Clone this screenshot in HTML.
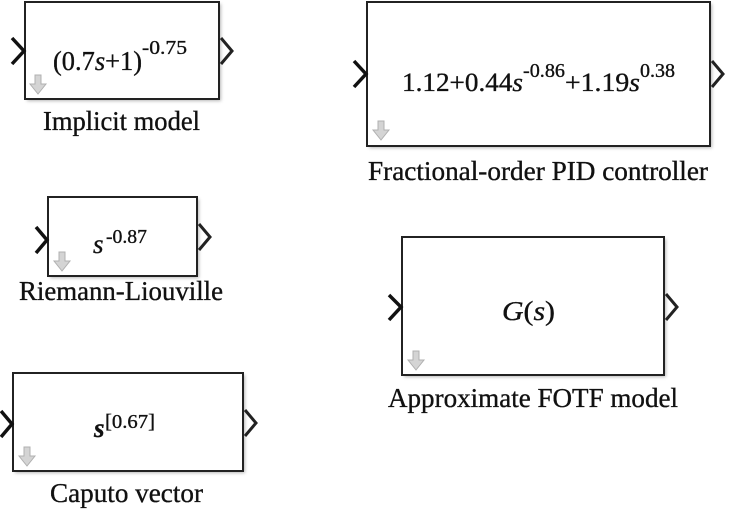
<!DOCTYPE html>
<html>
<head>
<meta charset="utf-8">
<style>
html,body{margin:0;padding:0;background:#fff;}
svg{display:block;}
text{font-family:"Liberation Serif","Times New Roman",serif;fill:#111;stroke:#111;stroke-width:0.35;}
</style>
</head>
<body>
<svg width="732" height="519" viewBox="0 0 732 519" xmlns="http://www.w3.org/2000/svg">
<defs>
  <filter id="sh" x="-10%" y="-10%" width="130%" height="130%">
    <feGaussianBlur stdDeviation="1.5"/>
  </filter>
  <g id="dn">
    <path d="M-3,0 H3 V9 H8 L0,19 L-8,9 H-3 Z" fill="#d4d4d4" stroke="#b0b0b0" stroke-width="1"/>
  </g>
</defs>

<!-- Box 1: Implicit model -->
<rect x="27" y="4" width="194" height="97" fill="#9a9a9a" filter="url(#sh)" opacity="0.7"/>
<rect x="25" y="2" width="194" height="97" fill="#fff" stroke="#222" stroke-width="2"/>
<use href="#dn" x="38" y="75"/>
<polyline points="12,38 24,51 12,64" fill="none" stroke="#111" stroke-width="3.5"/>
<polyline points="221,38 232,51 221,64" fill="none" stroke="#222" stroke-width="3"/>
<text x="53" y="70" font-size="27" textLength="89" lengthAdjust="spacingAndGlyphs">(0.7<tspan font-style="italic">s</tspan>+1)</text>
<text x="142" y="54" font-size="20" textLength="45" lengthAdjust="spacingAndGlyphs">-0.75</text>
<text x="43" y="130" font-size="27" textLength="157" lengthAdjust="spacingAndGlyphs">Implicit model</text>

<!-- Box 2: Fractional-order PID controller -->
<rect x="369" y="4" width="343" height="144" fill="#9a9a9a" filter="url(#sh)" opacity="0.7"/>
<rect x="367" y="2" width="343" height="144" fill="#fff" stroke="#222" stroke-width="2"/>
<use href="#dn" x="381" y="121"/>
<polyline points="354,61 366,74 354,87" fill="none" stroke="#111" stroke-width="3.5"/>
<polyline points="712,61 723,74 712,87" fill="none" stroke="#222" stroke-width="3"/>
<text x="402" y="91" font-size="26" textLength="121" lengthAdjust="spacingAndGlyphs">1.12+0.44<tspan font-style="italic">s</tspan></text>
<text x="523" y="77" font-size="20" textLength="42" lengthAdjust="spacingAndGlyphs">-0.86</text>
<text x="565" y="91" font-size="26" textLength="75" lengthAdjust="spacingAndGlyphs">+1.19<tspan font-style="italic">s</tspan></text>
<text x="640" y="77" font-size="20" textLength="35" lengthAdjust="spacingAndGlyphs">0.38</text>
<text x="368" y="180" font-size="27" textLength="340" lengthAdjust="spacingAndGlyphs">Fractional-order PID controller</text>

<!-- Box 3: Riemann-Liouville -->
<rect x="50" y="199" width="149" height="79" fill="#9a9a9a" filter="url(#sh)" opacity="0.7"/>
<rect x="48" y="197" width="149" height="79" fill="#fff" stroke="#222" stroke-width="2"/>
<use href="#dn" x="62" y="252"/>
<polyline points="36,227 47,240 36,253" fill="none" stroke="#111" stroke-width="3.5"/>
<polyline points="199,224 210,237 199,250" fill="none" stroke="#222" stroke-width="3"/>
<text x="93" y="253" font-size="27" font-style="italic">s</text>
<text x="106" y="243" font-size="20" textLength="41" lengthAdjust="spacingAndGlyphs">-0.87</text>
<text x="19" y="300" font-size="27" textLength="204" lengthAdjust="spacingAndGlyphs">Riemann-Liouville</text>

<!-- Box 4: Caputo vector -->
<rect x="15" y="375" width="230" height="98" fill="#9a9a9a" filter="url(#sh)" opacity="0.7"/>
<rect x="13" y="373" width="230" height="98" fill="#fff" stroke="#222" stroke-width="2"/>
<use href="#dn" x="27" y="447"/>
<polyline points="1,411 12,424 1,437" fill="none" stroke="#111" stroke-width="3.5"/>
<polyline points="245,410 256,423 245,436" fill="none" stroke="#222" stroke-width="3"/>
<text x="94" y="437" font-size="27" font-style="italic" font-weight="bold">s</text>
<text x="105" y="428" font-size="20" textLength="50" lengthAdjust="spacingAndGlyphs">[0.67]</text>
<text x="50" y="502" font-size="27" textLength="153" lengthAdjust="spacingAndGlyphs">Caputo vector</text>

<!-- Box 5: Approximate FOTF model -->
<rect x="404" y="239" width="262" height="138" fill="#9a9a9a" filter="url(#sh)" opacity="0.7"/>
<rect x="402" y="237" width="262" height="138" fill="#fff" stroke="#222" stroke-width="2"/>
<use href="#dn" x="416" y="351"/>
<polyline points="389,295 401,307 389,320" fill="none" stroke="#111" stroke-width="3.5"/>
<polyline points="666,294 677,307 666,320" fill="none" stroke="#222" stroke-width="3"/>
<text x="502" y="320" font-size="27" textLength="53" lengthAdjust="spacingAndGlyphs"><tspan font-style="italic">G</tspan>(<tspan font-style="italic">s</tspan>)</text>
<text x="388" y="407" font-size="27" textLength="290" lengthAdjust="spacingAndGlyphs">Approximate FOTF model</text>
</svg>
</body>
</html>
